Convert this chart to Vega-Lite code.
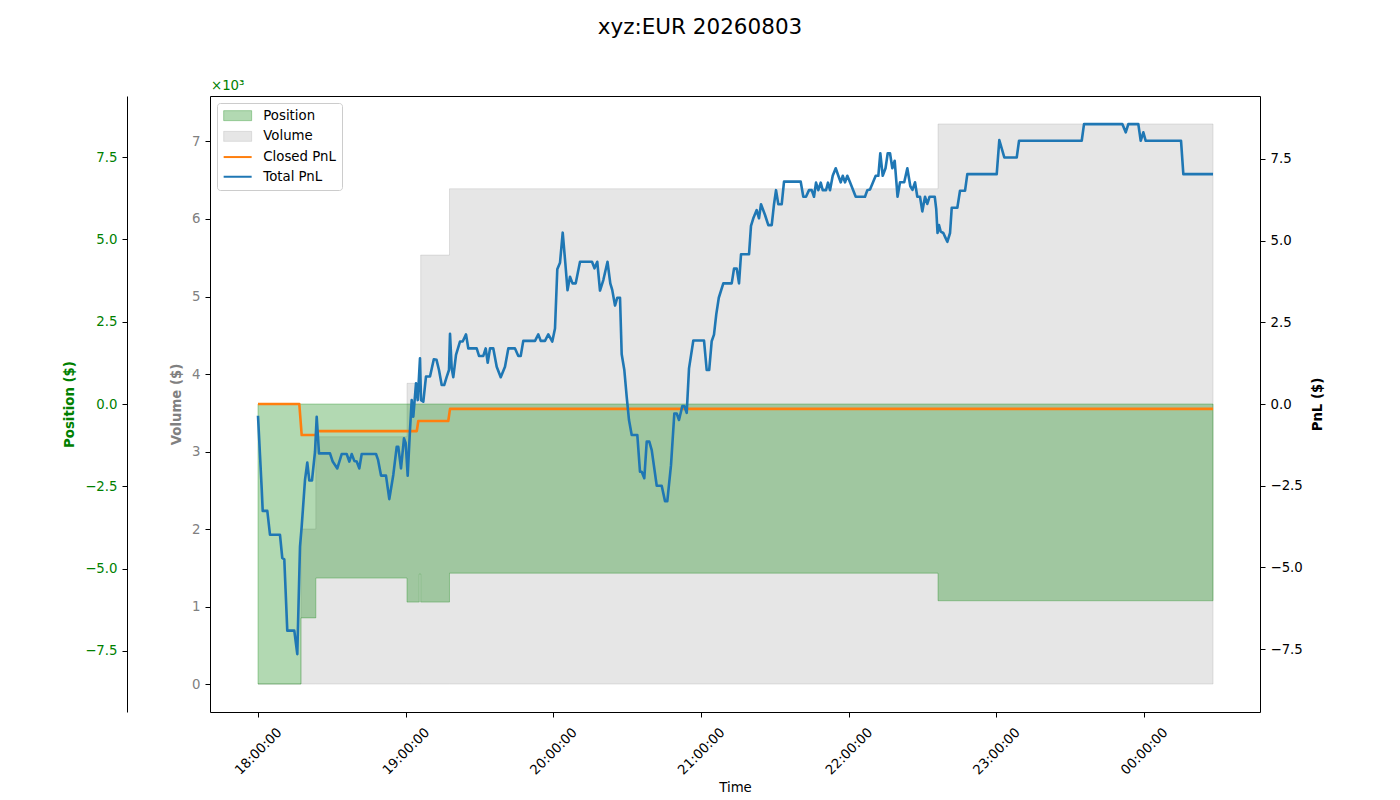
{
  "$schema": "https://vega.github.io/schema/vega-lite/v6.json",
  "description": "Position, volume and PnL for xyz:EUR over the evening session of 2026-08-03",
  "autosize": "none",
  "width": 1050,
  "height": 616,
  "padding": {"left": 210, "top": 96, "right": 140, "bottom": 88},
  "background": "white",
  "title": {
    "text": "xyz:EUR 20260803",
    "fontSize": 21.5,
    "fontWeight": "normal",
    "font": "DejaVu Sans",
    "color": "black",
    "anchor": "middle",
    "frame": "group",
    "dx": -35,
    "offset": 41
  },
  "datasets": {
    "volume": [
      {"t": "2026-08-03 18:00:00", "volume": 0},
      {"t": "2026-08-03 18:17:28", "volume": 2000},
      {"t": "2026-08-03 18:23:30", "volume": 3190},
      {"t": "2026-08-03 19:00:32", "volume": 3880},
      {"t": "2026-08-03 19:06:06", "volume": 5535},
      {"t": "2026-08-03 19:17:48", "volume": 6390},
      {"t": "2026-08-03 22:36:17", "volume": 7226},
      {"t": "2026-08-04 00:28:01", "volume": 7226}
    ],
    "scale_note": [
      {"t": "2026-08-03 17:40:30", "volume": 7587, "label": "×10³"}
    ],
    "position": [
      {"t": "2026-08-03 18:00:00", "position": -8.51},
      {"t": "2026-08-03 18:17:28", "position": -6.5},
      {"t": "2026-08-03 18:23:30", "position": -5.29},
      {"t": "2026-08-03 19:00:32", "position": -6.02},
      {"t": "2026-08-03 19:05:32", "position": -5.17},
      {"t": "2026-08-03 19:06:06", "position": -6.02},
      {"t": "2026-08-03 19:17:48", "position": -5.14},
      {"t": "2026-08-03 22:36:17", "position": -5.98},
      {"t": "2026-08-04 00:28:01", "position": -5.98}
    ],
    "pnl": [
      {"t": "2026-08-03 18:00:00", "series": "Closed PnL", "pnl": 0},
      {"t": "2026-08-03 18:16:47", "series": "Closed PnL", "pnl": 0},
      {"t": "2026-08-03 18:17:45", "series": "Closed PnL", "pnl": -0.95},
      {"t": "2026-08-03 18:23:50", "series": "Closed PnL", "pnl": -0.95},
      {"t": "2026-08-03 18:24:15", "series": "Closed PnL", "pnl": -0.83},
      {"t": "2026-08-03 19:04:31", "series": "Closed PnL", "pnl": -0.83},
      {"t": "2026-08-03 19:05:08", "series": "Closed PnL", "pnl": -0.52},
      {"t": "2026-08-03 19:17:19", "series": "Closed PnL", "pnl": -0.52},
      {"t": "2026-08-03 19:18:01", "series": "Closed PnL", "pnl": -0.15},
      {"t": "2026-08-04 00:28:01", "series": "Closed PnL", "pnl": -0.15},
      {"t": "2026-08-03 18:00:00", "series": "Total PnL", "pnl": -0.36},
      {"t": "2026-08-03 18:01:30", "series": "Total PnL", "pnl": -2.58},
      {"t": "2026-08-03 18:01:55", "series": "Total PnL", "pnl": -3.27},
      {"t": "2026-08-03 18:03:47", "series": "Total PnL", "pnl": -3.27},
      {"t": "2026-08-03 18:04:53", "series": "Total PnL", "pnl": -4.0},
      {"t": "2026-08-03 18:08:56", "series": "Total PnL", "pnl": -4.0},
      {"t": "2026-08-03 18:09:52", "series": "Total PnL", "pnl": -4.71},
      {"t": "2026-08-03 18:10:41", "series": "Total PnL", "pnl": -4.75},
      {"t": "2026-08-03 18:11:54", "series": "Total PnL", "pnl": -6.93},
      {"t": "2026-08-03 18:14:45", "series": "Total PnL", "pnl": -6.93},
      {"t": "2026-08-03 18:15:58", "series": "Total PnL", "pnl": -7.65},
      {"t": "2026-08-03 18:17:04", "series": "Total PnL", "pnl": -4.36},
      {"t": "2026-08-03 18:17:45", "series": "Total PnL", "pnl": -3.75},
      {"t": "2026-08-03 18:19:06", "series": "Total PnL", "pnl": -2.32},
      {"t": "2026-08-03 18:20:02", "series": "Total PnL", "pnl": -1.79},
      {"t": "2026-08-03 18:20:51", "series": "Total PnL", "pnl": -2.34},
      {"t": "2026-08-03 18:21:56", "series": "Total PnL", "pnl": -2.34},
      {"t": "2026-08-03 18:23:10", "series": "Total PnL", "pnl": -1.46},
      {"t": "2026-08-03 18:23:51", "series": "Total PnL", "pnl": -0.39},
      {"t": "2026-08-03 18:24:47", "series": "Total PnL", "pnl": -1.51},
      {"t": "2026-08-03 18:29:15", "series": "Total PnL", "pnl": -1.51},
      {"t": "2026-08-03 18:30:21", "series": "Total PnL", "pnl": -1.76},
      {"t": "2026-08-03 18:32:13", "series": "Total PnL", "pnl": -1.97},
      {"t": "2026-08-03 18:34:00", "series": "Total PnL", "pnl": -1.53},
      {"t": "2026-08-03 18:36:02", "series": "Total PnL", "pnl": -1.53},
      {"t": "2026-08-03 18:37:06", "series": "Total PnL", "pnl": -1.76},
      {"t": "2026-08-03 18:38:04", "series": "Total PnL", "pnl": -1.53},
      {"t": "2026-08-03 18:39:08", "series": "Total PnL", "pnl": -1.74},
      {"t": "2026-08-03 18:40:06", "series": "Total PnL", "pnl": -1.76},
      {"t": "2026-08-03 18:41:09", "series": "Total PnL", "pnl": -1.97},
      {"t": "2026-08-03 18:42:08", "series": "Total PnL", "pnl": -1.53},
      {"t": "2026-08-03 18:47:57", "series": "Total PnL", "pnl": -1.53},
      {"t": "2026-08-03 18:48:45", "series": "Total PnL", "pnl": -1.7},
      {"t": "2026-08-03 18:49:59", "series": "Total PnL", "pnl": -2.19},
      {"t": "2026-08-03 18:52:00", "series": "Total PnL", "pnl": -2.19},
      {"t": "2026-08-03 18:53:21", "series": "Total PnL", "pnl": -2.91},
      {"t": "2026-08-03 18:54:58", "series": "Total PnL", "pnl": -2.17},
      {"t": "2026-08-03 18:56:21", "series": "Total PnL", "pnl": -1.31},
      {"t": "2026-08-03 18:57:00", "series": "Total PnL", "pnl": -1.31},
      {"t": "2026-08-03 18:58:06", "series": "Total PnL", "pnl": -1.97},
      {"t": "2026-08-03 18:59:19", "series": "Total PnL", "pnl": -1.05},
      {"t": "2026-08-03 19:00:01", "series": "Total PnL", "pnl": -1.2},
      {"t": "2026-08-03 19:00:49", "series": "Total PnL", "pnl": -2.19},
      {"t": "2026-08-03 19:01:45", "series": "Total PnL", "pnl": -0.8},
      {"t": "2026-08-03 19:02:27", "series": "Total PnL", "pnl": 0.12},
      {"t": "2026-08-03 19:03:06", "series": "Total PnL", "pnl": -0.39},
      {"t": "2026-08-03 19:04:12", "series": "Total PnL", "pnl": 0.63},
      {"t": "2026-08-03 19:04:53", "series": "Total PnL", "pnl": 0.12},
      {"t": "2026-08-03 19:05:49", "series": "Total PnL", "pnl": 1.4},
      {"t": "2026-08-03 19:06:14", "series": "Total PnL", "pnl": 0.12},
      {"t": "2026-08-03 19:07:10", "series": "Total PnL", "pnl": 0.07},
      {"t": "2026-08-03 19:08:15", "series": "Total PnL", "pnl": 0.84},
      {"t": "2026-08-03 19:09:53", "series": "Total PnL", "pnl": 0.84},
      {"t": "2026-08-03 19:11:26", "series": "Total PnL", "pnl": 1.37},
      {"t": "2026-08-03 19:12:32", "series": "Total PnL", "pnl": 1.35},
      {"t": "2026-08-03 19:13:32", "series": "Total PnL", "pnl": 1.04},
      {"t": "2026-08-03 19:14:38", "series": "Total PnL", "pnl": 0.58},
      {"t": "2026-08-03 19:15:39", "series": "Total PnL", "pnl": 0.58},
      {"t": "2026-08-03 19:16:40", "series": "Total PnL", "pnl": 0.83},
      {"t": "2026-08-03 19:17:36", "series": "Total PnL", "pnl": 1.04},
      {"t": "2026-08-03 19:18:01", "series": "Total PnL", "pnl": 2.15},
      {"t": "2026-08-03 19:18:42", "series": "Total PnL", "pnl": 1.09},
      {"t": "2026-08-03 19:19:21", "series": "Total PnL", "pnl": 0.82},
      {"t": "2026-08-03 19:20:27", "series": "Total PnL", "pnl": 1.5},
      {"t": "2026-08-03 19:22:04", "series": "Total PnL", "pnl": 1.91},
      {"t": "2026-08-03 19:23:10", "series": "Total PnL", "pnl": 1.91},
      {"t": "2026-08-03 19:24:31", "series": "Total PnL", "pnl": 2.13},
      {"t": "2026-08-03 19:25:27", "series": "Total PnL", "pnl": 1.7},
      {"t": "2026-08-03 19:28:51", "series": "Total PnL", "pnl": 1.7},
      {"t": "2026-08-03 19:29:48", "series": "Total PnL", "pnl": 1.47},
      {"t": "2026-08-03 19:31:32", "series": "Total PnL", "pnl": 1.47},
      {"t": "2026-08-03 19:32:31", "series": "Total PnL", "pnl": 1.7},
      {"t": "2026-08-03 19:33:20", "series": "Total PnL", "pnl": 1.26},
      {"t": "2026-08-03 19:34:16", "series": "Total PnL", "pnl": 1.7},
      {"t": "2026-08-03 19:35:36", "series": "Total PnL", "pnl": 1.7},
      {"t": "2026-08-03 19:36:59", "series": "Total PnL", "pnl": 1.14},
      {"t": "2026-08-03 19:38:37", "series": "Total PnL", "pnl": 0.82},
      {"t": "2026-08-03 19:40:21", "series": "Total PnL", "pnl": 1.14},
      {"t": "2026-08-03 19:41:42", "series": "Total PnL", "pnl": 1.7},
      {"t": "2026-08-03 19:44:25", "series": "Total PnL", "pnl": 1.7},
      {"t": "2026-08-03 19:45:46", "series": "Total PnL", "pnl": 1.47},
      {"t": "2026-08-03 19:46:44", "series": "Total PnL", "pnl": 1.47},
      {"t": "2026-08-03 19:47:47", "series": "Total PnL", "pnl": 1.93},
      {"t": "2026-08-03 19:52:33", "series": "Total PnL", "pnl": 1.93},
      {"t": "2026-08-03 19:53:53", "series": "Total PnL", "pnl": 2.13},
      {"t": "2026-08-03 19:54:52", "series": "Total PnL", "pnl": 1.93},
      {"t": "2026-08-03 19:56:36", "series": "Total PnL", "pnl": 1.93},
      {"t": "2026-08-03 19:57:57", "series": "Total PnL", "pnl": 2.13},
      {"t": "2026-08-03 19:59:34", "series": "Total PnL", "pnl": 1.91},
      {"t": "2026-08-03 20:00:40", "series": "Total PnL", "pnl": 2.31},
      {"t": "2026-08-03 20:01:36", "series": "Total PnL", "pnl": 4.12},
      {"t": "2026-08-03 20:02:42", "series": "Total PnL", "pnl": 4.32},
      {"t": "2026-08-03 20:03:48", "series": "Total PnL", "pnl": 5.24},
      {"t": "2026-08-03 20:04:51", "series": "Total PnL", "pnl": 4.32},
      {"t": "2026-08-03 20:05:45", "series": "Total PnL", "pnl": 3.48},
      {"t": "2026-08-03 20:06:46", "series": "Total PnL", "pnl": 3.89},
      {"t": "2026-08-03 20:07:47", "series": "Total PnL", "pnl": 3.69},
      {"t": "2026-08-03 20:09:05", "series": "Total PnL", "pnl": 3.69},
      {"t": "2026-08-03 20:10:50", "series": "Total PnL", "pnl": 4.35},
      {"t": "2026-08-03 20:15:42", "series": "Total PnL", "pnl": 4.35},
      {"t": "2026-08-03 20:16:43", "series": "Total PnL", "pnl": 4.15},
      {"t": "2026-08-03 20:17:51", "series": "Total PnL", "pnl": 4.35},
      {"t": "2026-08-03 20:18:57", "series": "Total PnL", "pnl": 3.47},
      {"t": "2026-08-03 20:20:18", "series": "Total PnL", "pnl": 3.79},
      {"t": "2026-08-03 20:22:00", "series": "Total PnL", "pnl": 4.35},
      {"t": "2026-08-03 20:23:08", "series": "Total PnL", "pnl": 3.69},
      {"t": "2026-08-03 20:23:55", "series": "Total PnL", "pnl": 3.49},
      {"t": "2026-08-03 20:25:03", "series": "Total PnL", "pnl": 3.01},
      {"t": "2026-08-03 20:25:59", "series": "Total PnL", "pnl": 3.25},
      {"t": "2026-08-03 20:27:05", "series": "Total PnL", "pnl": 3.25},
      {"t": "2026-08-03 20:27:46", "series": "Total PnL", "pnl": 1.52},
      {"t": "2026-08-03 20:28:50", "series": "Total PnL", "pnl": 1.04},
      {"t": "2026-08-03 20:29:48", "series": "Total PnL", "pnl": 0.22},
      {"t": "2026-08-03 20:30:44", "series": "Total PnL", "pnl": -0.49},
      {"t": "2026-08-03 20:31:50", "series": "Total PnL", "pnl": -0.95},
      {"t": "2026-08-03 20:34:07", "series": "Total PnL", "pnl": -0.95},
      {"t": "2026-08-03 20:35:12", "series": "Total PnL", "pnl": -2.07},
      {"t": "2026-08-03 20:35:54", "series": "Total PnL", "pnl": -2.07},
      {"t": "2026-08-03 20:36:57", "series": "Total PnL", "pnl": -2.27},
      {"t": "2026-08-03 20:37:56", "series": "Total PnL", "pnl": -1.15},
      {"t": "2026-08-03 20:38:59", "series": "Total PnL", "pnl": -1.15},
      {"t": "2026-08-03 20:39:58", "series": "Total PnL", "pnl": -1.41},
      {"t": "2026-08-03 20:42:00", "series": "Total PnL", "pnl": -2.5},
      {"t": "2026-08-03 20:44:01", "series": "Total PnL", "pnl": -2.5},
      {"t": "2026-08-03 20:45:22", "series": "Total PnL", "pnl": -2.97},
      {"t": "2026-08-03 20:46:18", "series": "Total PnL", "pnl": -2.97},
      {"t": "2026-08-03 20:47:48", "series": "Total PnL", "pnl": -1.87},
      {"t": "2026-08-03 20:49:09", "series": "Total PnL", "pnl": -0.29},
      {"t": "2026-08-03 20:50:07", "series": "Total PnL", "pnl": -0.29},
      {"t": "2026-08-03 20:51:03", "series": "Total PnL", "pnl": -0.49},
      {"t": "2026-08-03 20:52:24", "series": "Total PnL", "pnl": -0.06},
      {"t": "2026-08-03 20:53:12", "series": "Total PnL", "pnl": -0.06},
      {"t": "2026-08-03 20:54:11", "series": "Total PnL", "pnl": -0.27},
      {"t": "2026-08-03 20:55:07", "series": "Total PnL", "pnl": 1.09},
      {"t": "2026-08-03 20:56:52", "series": "Total PnL", "pnl": 1.94},
      {"t": "2026-08-03 21:01:13", "series": "Total PnL", "pnl": 1.94},
      {"t": "2026-08-03 21:02:18", "series": "Total PnL", "pnl": 1.04},
      {"t": "2026-08-03 21:03:19", "series": "Total PnL", "pnl": 1.04},
      {"t": "2026-08-03 21:04:20", "series": "Total PnL", "pnl": 1.92},
      {"t": "2026-08-03 21:05:16", "series": "Total PnL", "pnl": 2.12},
      {"t": "2026-08-03 21:06:12", "series": "Total PnL", "pnl": 2.75},
      {"t": "2026-08-03 21:07:13", "series": "Total PnL", "pnl": 3.25},
      {"t": "2026-08-03 21:09:03", "series": "Total PnL", "pnl": 3.69},
      {"t": "2026-08-03 21:12:28", "series": "Total PnL", "pnl": 3.69},
      {"t": "2026-08-03 21:13:24", "series": "Total PnL", "pnl": 4.14},
      {"t": "2026-08-03 21:14:30", "series": "Total PnL", "pnl": 4.14},
      {"t": "2026-08-03 21:15:26", "series": "Total PnL", "pnl": 3.69},
      {"t": "2026-08-03 21:16:15", "series": "Total PnL", "pnl": 4.58},
      {"t": "2026-08-03 21:19:30", "series": "Total PnL", "pnl": 4.58},
      {"t": "2026-08-03 21:20:18", "series": "Total PnL", "pnl": 5.45},
      {"t": "2026-08-03 21:21:14", "series": "Total PnL", "pnl": 5.68},
      {"t": "2026-08-03 21:22:37", "series": "Total PnL", "pnl": 5.93},
      {"t": "2026-08-03 21:23:33", "series": "Total PnL", "pnl": 5.68},
      {"t": "2026-08-03 21:24:22", "series": "Total PnL", "pnl": 6.11},
      {"t": "2026-08-03 21:26:00", "series": "Total PnL", "pnl": 5.78},
      {"t": "2026-08-03 21:27:20", "series": "Total PnL", "pnl": 5.47},
      {"t": "2026-08-03 21:28:43", "series": "Total PnL", "pnl": 5.47},
      {"t": "2026-08-03 21:29:39", "series": "Total PnL", "pnl": 6.11},
      {"t": "2026-08-03 21:30:28", "series": "Total PnL", "pnl": 6.54},
      {"t": "2026-08-03 21:31:24", "series": "Total PnL", "pnl": 6.11},
      {"t": "2026-08-03 21:32:47", "series": "Total PnL", "pnl": 6.11},
      {"t": "2026-08-03 21:33:43", "series": "Total PnL", "pnl": 6.8},
      {"t": "2026-08-03 21:40:30", "series": "Total PnL", "pnl": 6.8},
      {"t": "2026-08-03 21:41:33", "series": "Total PnL", "pnl": 6.34},
      {"t": "2026-08-03 21:42:39", "series": "Total PnL", "pnl": 6.34},
      {"t": "2026-08-03 21:43:52", "series": "Total PnL", "pnl": 6.54},
      {"t": "2026-08-03 21:44:58", "series": "Total PnL", "pnl": 6.54},
      {"t": "2026-08-03 21:45:54", "series": "Total PnL", "pnl": 6.34},
      {"t": "2026-08-03 21:46:43", "series": "Total PnL", "pnl": 6.77},
      {"t": "2026-08-03 21:47:39", "series": "Total PnL", "pnl": 6.54},
      {"t": "2026-08-03 21:48:38", "series": "Total PnL", "pnl": 6.77},
      {"t": "2026-08-03 21:49:26", "series": "Total PnL", "pnl": 6.54},
      {"t": "2026-08-03 21:50:47", "series": "Total PnL", "pnl": 6.54},
      {"t": "2026-08-03 21:51:35", "series": "Total PnL", "pnl": 6.77},
      {"t": "2026-08-03 21:52:24", "series": "Total PnL", "pnl": 6.54},
      {"t": "2026-08-03 21:53:30", "series": "Total PnL", "pnl": 6.98},
      {"t": "2026-08-03 21:54:43", "series": "Total PnL", "pnl": 7.21},
      {"t": "2026-08-03 21:55:47", "series": "Total PnL", "pnl": 6.98},
      {"t": "2026-08-03 21:56:45", "series": "Total PnL", "pnl": 6.78},
      {"t": "2026-08-03 21:57:34", "series": "Total PnL", "pnl": 6.98},
      {"t": "2026-08-03 21:58:30", "series": "Total PnL", "pnl": 6.78},
      {"t": "2026-08-03 21:59:26", "series": "Total PnL", "pnl": 6.98},
      {"t": "2026-08-03 22:00:32", "series": "Total PnL", "pnl": 6.78},
      {"t": "2026-08-03 22:02:51", "series": "Total PnL", "pnl": 6.34},
      {"t": "2026-08-03 22:06:37", "series": "Total PnL", "pnl": 6.34},
      {"t": "2026-08-03 22:07:34", "series": "Total PnL", "pnl": 6.54},
      {"t": "2026-08-03 22:08:39", "series": "Total PnL", "pnl": 6.56},
      {"t": "2026-08-03 22:10:58", "series": "Total PnL", "pnl": 6.98},
      {"t": "2026-08-03 22:12:02", "series": "Total PnL", "pnl": 6.98},
      {"t": "2026-08-03 22:12:50", "series": "Total PnL", "pnl": 7.67},
      {"t": "2026-08-03 22:13:49", "series": "Total PnL", "pnl": 6.98},
      {"t": "2026-08-03 22:14:57", "series": "Total PnL", "pnl": 7.21},
      {"t": "2026-08-03 22:15:51", "series": "Total PnL", "pnl": 7.67},
      {"t": "2026-08-03 22:16:47", "series": "Total PnL", "pnl": 7.67},
      {"t": "2026-08-03 22:17:43", "series": "Total PnL", "pnl": 7.21},
      {"t": "2026-08-03 22:18:41", "series": "Total PnL", "pnl": 7.44},
      {"t": "2026-08-03 22:19:50", "series": "Total PnL", "pnl": 6.34},
      {"t": "2026-08-03 22:20:51", "series": "Total PnL", "pnl": 6.78},
      {"t": "2026-08-03 22:22:33", "series": "Total PnL", "pnl": 6.78},
      {"t": "2026-08-03 22:23:49", "series": "Total PnL", "pnl": 7.21},
      {"t": "2026-08-03 22:25:02", "series": "Total PnL", "pnl": 6.66},
      {"t": "2026-08-03 22:25:55", "series": "Total PnL", "pnl": 6.55},
      {"t": "2026-08-03 22:26:56", "series": "Total PnL", "pnl": 6.78},
      {"t": "2026-08-03 22:27:52", "series": "Total PnL", "pnl": 6.34},
      {"t": "2026-08-03 22:28:58", "series": "Total PnL", "pnl": 6.34},
      {"t": "2026-08-03 22:29:54", "series": "Total PnL", "pnl": 5.89},
      {"t": "2026-08-03 22:31:00", "series": "Total PnL", "pnl": 6.34},
      {"t": "2026-08-03 22:31:56", "series": "Total PnL", "pnl": 6.12},
      {"t": "2026-08-03 22:32:52", "series": "Total PnL", "pnl": 6.34},
      {"t": "2026-08-03 22:34:57", "series": "Total PnL", "pnl": 6.34},
      {"t": "2026-08-03 22:35:33", "series": "Total PnL", "pnl": 5.97},
      {"t": "2026-08-03 22:36:05", "series": "Total PnL", "pnl": 5.23},
      {"t": "2026-08-03 22:36:41", "series": "Total PnL", "pnl": 5.47},
      {"t": "2026-08-03 22:37:23", "series": "Total PnL", "pnl": 5.27},
      {"t": "2026-08-03 22:38:26", "series": "Total PnL", "pnl": 5.23},
      {"t": "2026-08-03 22:39:20", "series": "Total PnL", "pnl": 5.08},
      {"t": "2026-08-03 22:40:04", "series": "Total PnL", "pnl": 4.96},
      {"t": "2026-08-03 22:41:10", "series": "Total PnL", "pnl": 5.23},
      {"t": "2026-08-03 22:41:51", "series": "Total PnL", "pnl": 6.0},
      {"t": "2026-08-03 22:44:08", "series": "Total PnL", "pnl": 6.0},
      {"t": "2026-08-03 22:45:13", "series": "Total PnL", "pnl": 6.52},
      {"t": "2026-08-03 22:47:15", "series": "Total PnL", "pnl": 6.52},
      {"t": "2026-08-03 22:48:11", "series": "Total PnL", "pnl": 7.03},
      {"t": "2026-08-03 23:00:08", "series": "Total PnL", "pnl": 7.03},
      {"t": "2026-08-03 23:01:11", "series": "Total PnL", "pnl": 8.07},
      {"t": "2026-08-03 23:03:13", "series": "Total PnL", "pnl": 7.54},
      {"t": "2026-08-03 23:08:16", "series": "Total PnL", "pnl": 7.54},
      {"t": "2026-08-03 23:09:12", "series": "Total PnL", "pnl": 8.05},
      {"t": "2026-08-03 23:34:40", "series": "Total PnL", "pnl": 8.05},
      {"t": "2026-08-03 23:35:36", "series": "Total PnL", "pnl": 8.56},
      {"t": "2026-08-03 23:51:10", "series": "Total PnL", "pnl": 8.56},
      {"t": "2026-08-03 23:52:33", "series": "Total PnL", "pnl": 8.31},
      {"t": "2026-08-03 23:53:36", "series": "Total PnL", "pnl": 8.56},
      {"t": "2026-08-03 23:57:40", "series": "Total PnL", "pnl": 8.56},
      {"t": "2026-08-03 23:58:38", "series": "Total PnL", "pnl": 8.05},
      {"t": "2026-08-03 23:59:42", "series": "Total PnL", "pnl": 8.31},
      {"t": "2026-08-04 00:00:40", "series": "Total PnL", "pnl": 8.05},
      {"t": "2026-08-04 00:15:01", "series": "Total PnL", "pnl": 8.05},
      {"t": "2026-08-04 00:15:57", "series": "Total PnL", "pnl": 7.03},
      {"t": "2026-08-04 00:28:01", "series": "Total PnL", "pnl": 7.03}
    ]
  },
  "encoding": {
    "x": {
      "field": "t",
      "type": "temporal",
      "scale": {
        "domain": [
          {"year": 2026, "month": 8, "date": 3, "hours": 17, "minutes": 40, "seconds": 30},
          {"year": 2026, "month": 8, "date": 4, "hours": 0, "minutes": 47, "seconds": 6}
        ]
      },
      "axis": {
        "title": "Time",
        "values": [
          {"year": 2026, "month": 8, "date": 3, "hours": 18},
          {"year": 2026, "month": 8, "date": 3, "hours": 19},
          {"year": 2026, "month": 8, "date": 3, "hours": 20},
          {"year": 2026, "month": 8, "date": 3, "hours": 21},
          {"year": 2026, "month": 8, "date": 3, "hours": 22},
          {"year": 2026, "month": 8, "date": 3, "hours": 23},
          {"year": 2026, "month": 8, "date": 4, "hours": 0}
        ],
        "format": "%H:%M:%S",
        "labelAngle": -45,
        "labelAlign": "center",
        "labelBaseline": "middle",
        "labelPadding": 34,
        "titlePadding": 4,
        "titleFontWeight": "normal",
        "domain": false
      }
    }
  },
  "layer": [
    {
      "layer": [
        {
          "data": {"name": "volume"},
          "mark": {"type": "area", "interpolate": "step-after", "fillOpacity": 0.2, "stroke": "#808080", "strokeOpacity": 0.2, "strokeWidth": 1},
          "encoding": {
            "y": {
              "field": "volume",
              "type": "quantitative",
              "scale": {"domain": [-361, 7587], "nice": false, "zero": false},
              "axis": {
                "orient": "left",
                "title": "Volume ($)",
                "values": [0, 1000, 2000, 3000, 4000, 5000, 6000, 7000],
                "labelExpr": "format(datum.value / 1000, 'd')",
                "labelColor": "#808080",
                "titleColor": "#808080",
                "titlePadding": 8,
                "domain": false
              }
            },
            "y2": {"datum": 0},
            "color": {
              "datum": "Volume",
              "type": "nominal",
              "scale": {
                "domain": ["Position", "Volume", "Closed PnL", "Total PnL"],
                "range": ["#008000", "#808080", "#ff7f0e", "#1f77b4"]
              },
              "legend": {
                "title": null,
                "orient": "top-left",
                "offset": 7,
                "padding": 6,
                "fillColor": "rgba(255,255,255,0.8)",
                "strokeColor": "#cccccc",
                "cornerRadius": 3,
                "labelFont": "DejaVu Sans",
                "labelFontSize": 13.3,
                "labelColor": "black",
                "labelOffset": 27,
                "rowPadding": 5.7,
                "symbolSize": 100,
                "symbolStrokeWidth": 2,
                "encode": {
                  "symbols": {
                    "update": {
                      "size": {"value": 100},
                      "shape": {"signal": "datum.value === 'Position' || datum.value === 'Volume' ? 'M-1.2,-1H4.4V1H-1.2Z' : 'M-1.2,0H4.4'"},
                      "fillOpacity": {"signal": "datum.value === 'Position' ? 0.3 : datum.value === 'Volume' ? 0.2 : 0"},
                      "strokeOpacity": {"signal": "datum.value === 'Position' ? 0.3 : datum.value === 'Volume' ? 0.2 : 1"},
                      "strokeWidth": {"signal": "datum.value === 'Position' || datum.value === 'Volume' ? 1 : 2"},
                      "opacity": {"value": 1}
                    }
                  }
                }
              }
            }
          }
        },
        {
          "data": {"name": "scale_note"},
          "mark": {"type": "text", "clip": false, "align": "left", "baseline": "bottom", "dx": 1, "dy": -3, "color": "#008000", "fontSize": 13.3, "font": "DejaVu Sans"},
          "encoding": {
            "y": {"field": "volume", "type": "quantitative"},
            "text": {"field": "label"}
          }
        }
      ]
    },
    {
      "data": {"name": "position"},
      "mark": {"type": "area", "interpolate": "step-after", "fillOpacity": 0.3, "stroke": "#008000", "strokeOpacity": 0.3, "strokeWidth": 1},
      "encoding": {
        "y": {
          "field": "position",
          "type": "quantitative",
          "scale": {"domain": [-9.36, 9.36], "nice": false, "zero": false},
          "axis": {
            "orient": "left",
            "offset": 83,
            "title": "Position ($)",
            "values": [-7.5, -5, -2.5, 0, 2.5, 5, 7.5],
            "format": ".1f",
            "labelColor": "#008000",
            "titleColor": "#008000",
            "titlePadding": 8,
            "domain": true,
            "domainColor": "black"
          }
        },
        "y2": {"datum": 0},
        "color": {
          "datum": "Position",
          "type": "nominal",
          "legend": {
            "title": null,
            "orient": "top-left",
            "offset": 7,
            "padding": 6,
            "fillColor": "rgba(255,255,255,0.8)",
            "strokeColor": "#cccccc",
            "cornerRadius": 3,
            "labelFont": "DejaVu Sans",
            "labelFontSize": 13.3,
            "labelColor": "black",
            "labelOffset": 27,
            "rowPadding": 5.7,
            "symbolSize": 100,
            "symbolStrokeWidth": 2,
            "encode": {
              "symbols": {
                "update": {
                  "size": {"value": 100},
                  "shape": {"signal": "datum.value === 'Position' || datum.value === 'Volume' ? 'M-1.2,-1H4.4V1H-1.2Z' : 'M-1.2,0H4.4'"},
                  "fillOpacity": {"signal": "datum.value === 'Position' ? 0.3 : datum.value === 'Volume' ? 0.2 : 0"},
                  "strokeOpacity": {"signal": "datum.value === 'Position' ? 0.3 : datum.value === 'Volume' ? 0.2 : 1"},
                  "strokeWidth": {"signal": "datum.value === 'Position' || datum.value === 'Volume' ? 1 : 2"},
                  "opacity": {"value": 1}
                }
              }
            }
          }
        }
      }
    },
    {
      "data": {"name": "pnl"},
      "mark": {"type": "line", "strokeWidth": 2.6, "strokeJoin": "round"},
      "encoding": {
        "y": {
          "field": "pnl",
          "type": "quantitative",
          "scale": {"domain": [-9.42, 9.42], "nice": false, "zero": false},
          "axis": {
            "orient": "right",
            "title": "PnL ($)",
            "values": [-7.5, -5, -2.5, 0, 2.5, 5, 7.5],
            "format": ".1f",
            "labelColor": "black",
            "titleColor": "black",
            "titleAngle": 270,
            "titleBaseline": "top",
            "titlePadding": 8,
            "domain": false
          }
        },
        "color": {
          "field": "series",
          "type": "nominal",
          "legend": {
            "title": null,
            "orient": "top-left",
            "offset": 7,
            "padding": 6,
            "fillColor": "rgba(255,255,255,0.8)",
            "strokeColor": "#cccccc",
            "cornerRadius": 3,
            "labelFont": "DejaVu Sans",
            "labelFontSize": 13.3,
            "labelColor": "black",
            "labelOffset": 27,
            "rowPadding": 5.7,
            "symbolSize": 100,
            "symbolStrokeWidth": 2,
            "encode": {
              "symbols": {
                "update": {
                  "size": {"value": 100},
                  "shape": {"signal": "datum.value === 'Position' || datum.value === 'Volume' ? 'M-1.2,-1H4.4V1H-1.2Z' : 'M-1.2,0H4.4'"},
                  "fillOpacity": {"signal": "datum.value === 'Position' ? 0.3 : datum.value === 'Volume' ? 0.2 : 0"},
                  "strokeOpacity": {"signal": "datum.value === 'Position' ? 0.3 : datum.value === 'Volume' ? 0.2 : 1"},
                  "strokeWidth": {"signal": "datum.value === 'Position' || datum.value === 'Volume' ? 1 : 2"},
                  "opacity": {"value": 1}
                }
              }
            }
          }
        }
      }
    }
  ],
  "resolve": {"scale": {"y": "independent"}},
  "config": {
    "view": {"stroke": "black", "strokeWidth": 1},
    "font": "DejaVu Sans",
    "axis": {
      "grid": false,
      "tickColor": "black",
      "tickSize": 5,
      "tickWidth": 1,
      "labelFont": "DejaVu Sans",
      "titleFont": "DejaVu Sans",
      "labelFontSize": 13.3,
      "titleFontSize": 13.3,
      "labelPadding": 5,
      "labelColor": "black",
      "titleColor": "black",
      "labelOverlap": false,
      "labelFlush": false
    },
    "axisY": {"titleFontWeight": "bold"}
  }
}
